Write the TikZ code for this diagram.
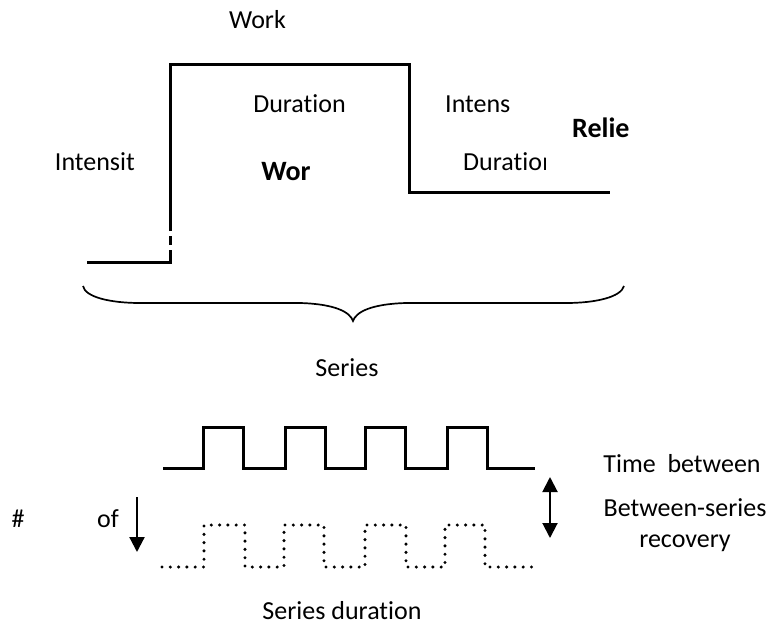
\documentclass[tikz,border=0pt]{standalone}
\usepackage{fontspec}
\setmainfont[Ligatures=NoCommon]{Carlito}
\usetikzlibrary{arrows.meta}
\tikzset{
  txt/.style={inner sep=0pt, font=\fontsize{26}{31}\selectfont},
  boldtxt/.style={inner sep=0pt, font=\fontsize{28}{33}\selectfont\bfseries},
  wave/.style={line width=3pt, line join=miter},
  dotwave/.style={line width=3.4pt, line cap=round, dash pattern=on 0pt off 8.3pt},
  bracepath/.style={line width=1.7pt},
  arrowline/.style={line width=2.2pt, -{Triangle[length=15pt,width=15pt]}},
  twoarrow/.style={line width=2pt, {Triangle[length=15pt,width=15pt]}-{Triangle[length=15pt,width=15pt]}}
}
\begin{document}
\begin{tikzpicture}[x=1pt,y=-1pt]
\useasboundingbox (0,0) rectangle (773,624);

% ---- one series: rest, work bout, relief ----
\draw[wave] (87,262) -- (170,262) -- (170,250);
\draw[wave] (170,245) -- (170,236);
\draw[wave] (170,231) -- (170,64) -- (409,64) -- (409,192) -- (610,192);

\node[txt, anchor=base] (work) at (257.5,28) {Work};
\node[txt, anchor=base] (durA) at (299.5,112) {Duration};
\node[txt, anchor=base east] (intA) at (135,170) {Intensit};
\node[boldtxt, anchor=base] (wor) at (286,180) {Wor};
\node[txt, anchor=base west] (intB) at (445,112) {Intens};
\node[boldtxt, anchor=base west] (relie) at (572,137) {Relie};
\node[txt, anchor=base west] (durB) at (463,170) {Duratio};
\begin{scope}
  \clip (durB.base east) ++(0,10) rectangle ++(3.6,-40);
  \node[txt, anchor=base west] (durBn) at (durB.base east) {n};
\end{scope}

% ---- brace ----
\draw[bracepath] (83,286) .. controls (85,297) and (110,303) .. (140,303)
  -- (300,303) .. controls (335,304) and (350,312) .. (353,321)
  .. controls (356,312) and (371,304) .. (406,303)
  -- (566,303) .. controls (596,303) and (621,297) .. (624,286);
\node[txt, anchor=base] (series) at (347,376) {Series};

% ---- repeated series ----
\draw[wave] (163,468) -- (203,468) -- (203,427) -- (243,427) -- (243,468)
  -- (285,468) -- (285,427) -- (325,427) -- (325,468)
  -- (365,468) -- (365,427) -- (405,427) -- (405,468)
  -- (447,468) -- (447,427) -- (487,427) -- (487,468) -- (535,468);
\draw[dotwave] (162,567) -- (204,567) -- (204,525) -- (245,525) -- (245,567)
  -- (284,567) -- (284,525) -- (324,525) -- (324,567)
  -- (365,567) -- (365,525) -- (406,525) -- (406,567)
  -- (445,567) -- (445,525) -- (485,525) -- (485,567) -- (535,567);

\coordinate (ofTop) at (137,497);
\coordinate (ofBot) at (137,552);
\draw[arrowline] (ofTop) -- (ofBot);
\coordinate (gapTop) at (550,477);
\coordinate (gapBot) at (550,538);
\draw[twoarrow] (gapTop) -- (gapBot);

\node[txt, anchor=base] (hash) at (18,527) {\#};
\node[txt, anchor=base] (of) at (108,527) {of};
\node[txt, anchor=base] (timebetween) at (682,472) {Time\ \ between};
\node[txt, anchor=base, align=center] (recovery) at (685,547) {Between-series\\recovery};
\node[txt, anchor=base] (seriesdur) at (342,619) {Series duration};
\end{tikzpicture}
\end{document}
